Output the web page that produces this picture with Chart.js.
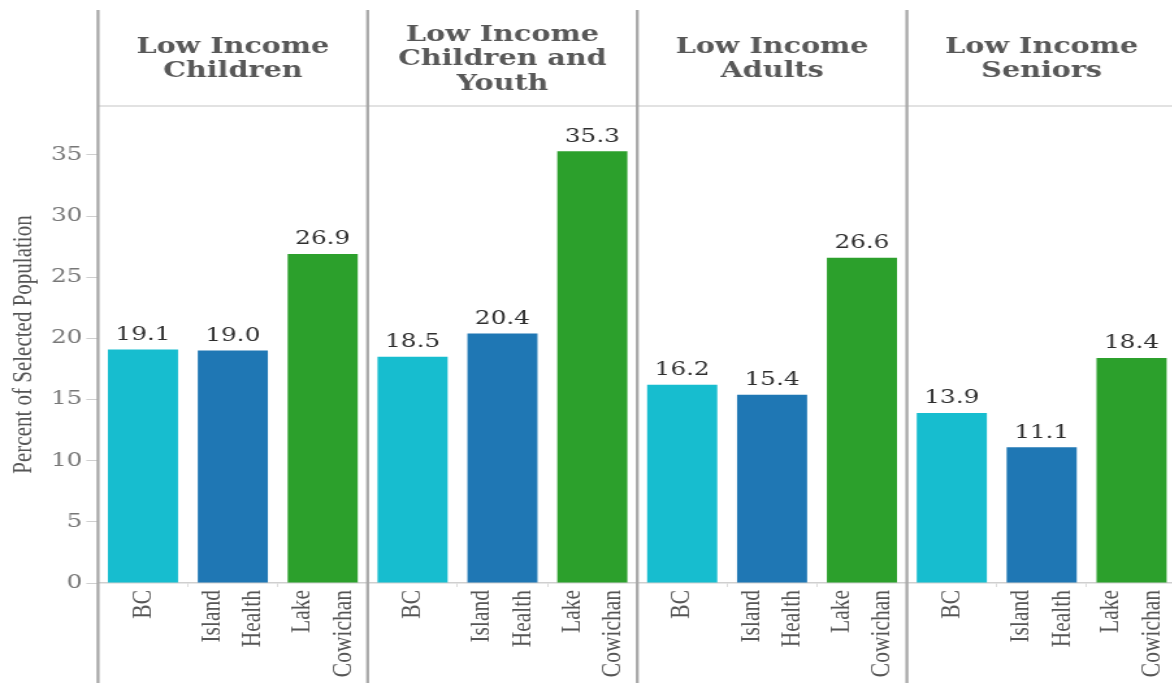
<!DOCTYPE html>
<html lang="en">
<head>
    <meta charset="UTF-8">
    <title>Low income by region</title>
    <script src="https://cdn.jsdelivr.net/npm/chart.js"></script>
    <style>
        html, body { margin: 0; padding: 0; background: #fff; overflow: hidden; }
        /* the source picture is stretched sideways, so the whole chart is too */
        #wrap { width: 905px; height: 683px; transform: scaleX(1.3); transform-origin: 0 0; }
    </style>
</head>
<body>
    <div id="wrap">
        <canvas id="barChart" width="905" height="683"></canvas>
    </div>

    <script>
        // Facet headers
        const facetTitles = [
            ['Low Income', 'Children'],
            ['Low Income', 'Children and', 'Youth'],
            ['Low Income', 'Adults'],
            ['Low Income', 'Seniors']
        ];

        // Regions shown inside every facet
        const regions = [['BC'], ['Island', 'Health'], ['Lake', 'Cowichan']];
        const regionColors = ['#17bdcf', '#1f77b4', '#2ca02c'];

        // Percent of selected population, one value per facet
        const bcValues = [19.1, 18.5, 16.2, 13.9];
        const islandHealthValues = [19.0, 20.4, 15.4, 11.1];
        const lakeCowichanValues = [26.9, 35.3, 26.6, 18.4];

        const yTicks = [0, 5, 10, 15, 20, 25, 30, 35];

        // Flatten facets into one category axis
        const seriesByRegion = [bcValues, islandHealthValues, lakeCowichanValues];
        const labels = [];
        const values = [];
        const colors = [];
        facetTitles.forEach((t, f) => {
            regions.forEach((r, i) => {
                labels.push(r);
                values.push(seriesByRegion[i][f]);
                colors.push(regionColors[i]);
            });
        });

        const SERIF = '"DejaVu Serif", serif';
        const TIMES = '"Liberation Serif", "Times New Roman", serif';

        // Facet separators, header strip, header text, bar values and region labels
        const facetPlugin = {
            id: 'facets',
            afterDraw(chart) {
                const ctx = chart.ctx;
                const x = chart.scales.x;
                const area = chart.chartArea;
                ctx.save();

                // header bottom line
                ctx.strokeStyle = '#e2e2e2';
                ctx.lineWidth = 2;
                ctx.beginPath();
                ctx.moveTo(area.left, 106);
                ctx.lineTo(chart.width, 106);
                ctx.stroke();

                // vertical separators
                ctx.strokeStyle = '#a8a8a8';
                ctx.lineWidth = 2.3;
                for (let k = 0; k < facetTitles.length; k++) {
                    const px = x.getPixelForValue(k * regions.length - 0.5);
                    ctx.beginPath();
                    ctx.moveTo(px, 10);
                    ctx.lineTo(px, chart.height);
                    ctx.stroke();
                }

                // header text
                ctx.fillStyle = '#585858';
                ctx.font = 'bold 22px ' + SERIF;
                ctx.textAlign = 'center';
                ctx.textBaseline = 'alphabetic';
                const lineGap = 24.5;
                facetTitles.forEach((lines, k) => {
                    const left = x.getPixelForValue(k * regions.length - 0.5);
                    const right = x.getPixelForValue((k + 1) * regions.length - 0.5);
                    const cx = (left + right) / 2;
                    const first = 65 - (lines.length - 1) * lineGap / 2;
                    lines.forEach((s, j) => ctx.fillText(s, cx, first + j * lineGap));
                });

                // value labels on bars
                ctx.fillStyle = '#2e2e2e';
                ctx.font = '19px ' + SERIF;
                ctx.textBaseline = 'bottom';
                chart.getDatasetMeta(0).data.forEach((bar, i) => {
                    ctx.fillText(values[i].toFixed(1), bar.x, bar.y - 5);
                });

                // rotated region labels under the axis
                ctx.fillStyle = '#555';
                ctx.font = '21.5px ' + TIMES;
                ctx.textAlign = 'right';
                ctx.textBaseline = 'middle';
                const labelGap = 31.5;
                labels.forEach((lines, i) => {
                    const cx = x.getPixelForValue(i);
                    ctx.save();
                    ctx.translate(cx, area.bottom + 7);
                    ctx.rotate(-Math.PI / 2);
                    lines.forEach((s, j) => {
                        ctx.fillText(s, 0, (j - (lines.length - 1) / 2) * labelGap);
                    });
                    ctx.restore();
                });

                ctx.restore();
            }
        };

        const ctx = document.getElementById('barChart').getContext('2d');
        const chart = new Chart(ctx, {
            type: 'bar',
            data: {
                labels: labels,
                datasets: [{
                    data: values,
                    backgroundColor: colors,
                    borderWidth: 0,
                    barPercentage: 0.78,
                    categoryPercentage: 1
                }]
            },
            options: {
                responsive: false,
                animation: false,
                layout: { padding: { top: 106, left: 0, right: 0, bottom: 0 } },
                plugins: {
                    legend: { display: false },
                    tooltip: { enabled: false }
                },
                scales: {
                    x: {
                        afterFit(scale) {
                            scale.height = 100;
                            scale.paddingLeft = 0;
                            scale.paddingRight = 0;
                        },
                        border: { display: true, color: '#cfcfcf', width: 1.5 },
                        grid: { display: true, drawOnChartArea: false, tickLength: 4, color: '#dcdcdc' },
                        ticks: { display: false, autoSkip: false }
                    },
                    y: {
                        min: 0,
                        max: 39,
                        afterFit(scale) { scale.width = 75.4; },
                        afterBuildTicks(scale) { scale.ticks = yTicks.map(v => ({ value: v })); },
                        border: { display: false },
                        grid: { display: true, drawOnChartArea: false, tickLength: 9, color: '#cfcfcf' },
                        ticks: {
                            padding: 3,
                            color: '#777',
                            font: { family: SERIF, size: 19 }
                        },
                        title: {
                            display: true,
                            text: 'Percent of Selected Population',
                            color: '#555',
                            padding: { top: 6, bottom: 0 },
                            font: { family: TIMES, size: 21 }
                        }
                    }
                }
            },
            plugins: [facetPlugin]
        });
    </script>
</body>
</html>
